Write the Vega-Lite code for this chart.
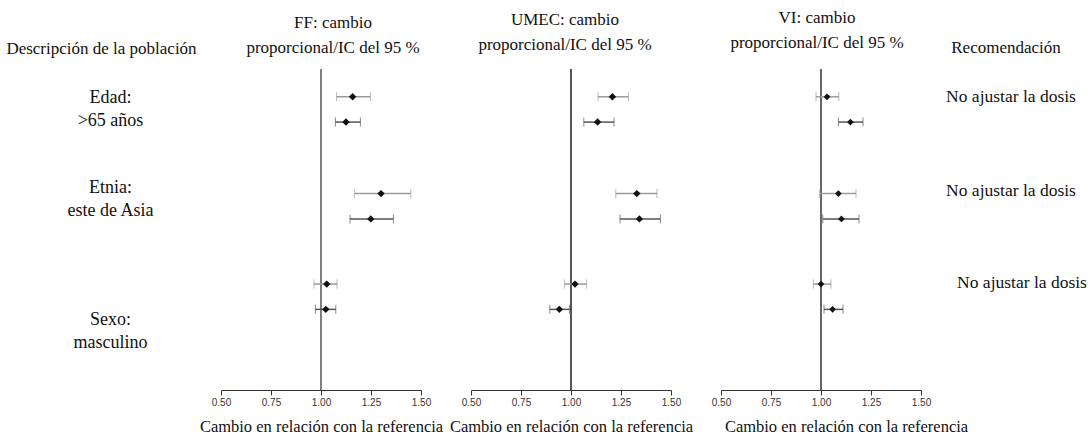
{
  "$schema": "https://vega.github.io/schema/vega-lite/v6.json",
  "padding": {"left": 0, "top": 9, "right": 0, "bottom": 0},
  "background": "white",
  "spacing": 50,
  "bounds": "flush",
  "config": {
    "view": {"stroke": null},
    "font": "Liberation Serif",
    "title": {"font": "Liberation Serif", "fontSize": 17, "fontWeight": "normal", "color": "#111", "subtitleFont": "Liberation Serif", "subtitleFontSize": 17, "subtitleColor": "#111", "subtitlePadding": 8, "offset": 13, "anchor": "middle"},
    "axis": {"grid": false, "domainColor": "#333", "tickColor": "#333", "tickSize": 5, "labelFont": "Liberation Sans", "labelFontSize": 10, "labelColor": "#333", "labelFlush": false, "titleFont": "Liberation Serif", "titleFontSize": 16.5, "titleFontWeight": "normal", "titleColor": "#111", "titlePadding": 11}
  },
  "datasets": {
    "forest": [
      {"farmaco": "FF", "grupo": "Edad", "parametro": "Cmax", "posicion": 1, "valor": 1.158, "inf": 1.078, "sup": 1.247},
      {"farmaco": "FF", "grupo": "Edad", "parametro": "AUC", "posicion": 2, "valor": 1.125, "inf": 1.072, "sup": 1.197},
      {"farmaco": "FF", "grupo": "Etnia", "parametro": "Cmax", "posicion": 4.83, "valor": 1.30, "inf": 1.167, "sup": 1.449},
      {"farmaco": "FF", "grupo": "Etnia", "parametro": "AUC", "posicion": 5.83, "valor": 1.249, "inf": 1.145, "sup": 1.362},
      {"farmaco": "FF", "grupo": "Sexo", "parametro": "Cmax", "posicion": 8.41, "valor": 1.029, "inf": 0.965, "sup": 1.08},
      {"farmaco": "FF", "grupo": "Sexo", "parametro": "AUC", "posicion": 9.41, "valor": 1.024, "inf": 0.972, "sup": 1.074},
      {"farmaco": "UMEC", "grupo": "Edad", "parametro": "Cmax", "posicion": 1, "valor": 1.207, "inf": 1.135, "sup": 1.287},
      {"farmaco": "UMEC", "grupo": "Edad", "parametro": "AUC", "posicion": 2, "valor": 1.133, "inf": 1.064, "sup": 1.215},
      {"farmaco": "UMEC", "grupo": "Etnia", "parametro": "Cmax", "posicion": 4.83, "valor": 1.329, "inf": 1.224, "sup": 1.43},
      {"farmaco": "UMEC", "grupo": "Etnia", "parametro": "AUC", "posicion": 5.83, "valor": 1.342, "inf": 1.245, "sup": 1.447},
      {"farmaco": "UMEC", "grupo": "Sexo", "parametro": "Cmax", "posicion": 8.41, "valor": 1.02, "inf": 0.968, "sup": 1.077},
      {"farmaco": "UMEC", "grupo": "Sexo", "parametro": "AUC", "posicion": 9.41, "valor": 0.942, "inf": 0.894, "sup": 0.992},
      {"farmaco": "VI", "grupo": "Edad", "parametro": "Cmax", "posicion": 1, "valor": 1.03, "inf": 0.975, "sup": 1.089},
      {"farmaco": "VI", "grupo": "Edad", "parametro": "AUC", "posicion": 2, "valor": 1.147, "inf": 1.087, "sup": 1.21},
      {"farmaco": "VI", "grupo": "Etnia", "parametro": "Cmax", "posicion": 4.83, "valor": 1.087, "inf": 0.994, "sup": 1.175},
      {"farmaco": "VI", "grupo": "Etnia", "parametro": "AUC", "posicion": 5.83, "valor": 1.102, "inf": 1.009, "sup": 1.19},
      {"farmaco": "VI", "grupo": "Sexo", "parametro": "Cmax", "posicion": 8.41, "valor": 1.0, "inf": 0.962, "sup": 1.05},
      {"farmaco": "VI", "grupo": "Sexo", "parametro": "AUC", "posicion": 9.41, "valor": 1.058, "inf": 1.015, "sup": 1.11}
    ],
    "poblacion": [
      {"etiqueta": "Edad:\n>65 años", "posicion": 1.05},
      {"etiqueta": "Etnia:\neste de Asia", "posicion": 4.6},
      {"etiqueta": "Sexo:\nmasculino", "posicion": 9.85}
    ],
    "recomendacion": [
      {"grupo": "Edad", "texto": "No ajustar la dosis", "posicion": 1.0},
      {"grupo": "Etnia", "texto": "No ajustar la dosis", "posicion": 4.73},
      {"grupo": "Sexo", "texto": "No ajustar la dosis", "posicion": 8.36}
    ],
    "referencia": [{"referencia": 1}]
  },
  "hconcat": [
    {
      "width": 171, "height": 321,
      "title": {"text": " ", "subtitle": "Descripción de la población", "dx": 16, "dy": 2, "subtitleFontSize": 17},
      "data": {"name": "poblacion"},
      "mark": {"type": "text", "fontSize": 18, "lineHeight": 23, "color": "#111", "dx": 25, "lineBreak": "\n"},
      "encoding": {
        "y": {"field": "posicion", "type": "quantitative", "scale": {"domain": [-0.1, 12.6], "reverse": true, "nice": false, "zero": false}, "axis": null},
        "text": {"field": "etiqueta"}
      }
    },
    {
      "width": 200, "height": 321,
      "title": {"text": "FF: cambio", "subtitle": "proporcional/IC del 95 %", "dx": 12, "dy": 2},
      "layer": [
        {
          "data": {"name": "referencia"},
          "mark": {"type": "rule", "color": "#555", "strokeWidth": 1.5},
          "encoding": {"x": {"field": "referencia", "type": "quantitative", "scale": {"domain": [0.5, 1.5], "nice": false, "zero": false}, "axis": {"values": [0.5, 0.75, 1, 1.25, 1.5], "format": ".2f", "title": "Cambio en relación con la referencia"}}}
        },
        {
          "data": {"name": "forest"},
          "transform": [{"filter": "datum.farmaco === 'FF'"}],
          "encoding": {
            "y": {"field": "posicion", "type": "quantitative", "scale": {"domain": [-0.1, 12.6], "reverse": true, "nice": false, "zero": false}, "axis": null},
            "color": {"field": "parametro", "type": "nominal", "scale": {"domain": ["Cmax", "AUC"], "range": ["#9a9a9a", "#555555"]}, "legend": null}
          },
          "layer": [
            {"mark": {"type": "rule", "strokeWidth": 1.5}, "encoding": {"x": {"field": "inf", "type": "quantitative"}, "x2": {"field": "sup"}}},
            {"mark": {"type": "tick", "orient": "vertical", "size": 9, "thickness": 1}, "encoding": {"x": {"field": "inf", "type": "quantitative"}}},
            {"mark": {"type": "tick", "orient": "vertical", "size": 9, "thickness": 1}, "encoding": {"x": {"field": "sup", "type": "quantitative"}}},
            {"mark": {"type": "point", "shape": "diamond", "filled": true, "size": 55, "opacity": 1, "color": "#111"}, "encoding": {"x": {"field": "valor", "type": "quantitative"}, "color": {"value": "#111"}}}
          ]
        }
      ]
    },
    {
      "width": 200, "height": 321,
      "title": {"text": "UMEC: cambio", "subtitle": "proporcional/IC del 95 %", "dx": -6, "dy": -1},
      "layer": [
        {
          "data": {"name": "referencia"},
          "mark": {"type": "rule", "color": "#555", "strokeWidth": 2},
          "encoding": {"x": {"field": "referencia", "type": "quantitative", "scale": {"domain": [0.5, 1.5], "nice": false, "zero": false}, "axis": {"values": [0.5, 0.75, 1, 1.25, 1.5], "format": ".2f", "title": "Cambio en relación con la referencia"}}}
        },
        {
          "data": {"name": "forest"},
          "transform": [{"filter": "datum.farmaco === 'UMEC'"}],
          "encoding": {
            "y": {"field": "posicion", "type": "quantitative", "scale": {"domain": [-0.1, 12.6], "reverse": true, "nice": false, "zero": false}, "axis": null},
            "color": {"field": "parametro", "type": "nominal", "scale": {"domain": ["Cmax", "AUC"], "range": ["#9a9a9a", "#555555"]}, "legend": null}
          },
          "layer": [
            {"mark": {"type": "rule", "strokeWidth": 1.5}, "encoding": {"x": {"field": "inf", "type": "quantitative"}, "x2": {"field": "sup"}}},
            {"mark": {"type": "tick", "orient": "vertical", "size": 9, "thickness": 1}, "encoding": {"x": {"field": "inf", "type": "quantitative"}}},
            {"mark": {"type": "tick", "orient": "vertical", "size": 9, "thickness": 1}, "encoding": {"x": {"field": "sup", "type": "quantitative"}}},
            {"mark": {"type": "point", "shape": "diamond", "filled": true, "size": 55, "opacity": 1, "color": "#111"}, "encoding": {"x": {"field": "valor", "type": "quantitative"}, "color": {"value": "#111"}}}
          ]
        }
      ]
    },
    {
      "width": 200, "height": 321,
      "title": {"text": "VI: cambio", "subtitle": "proporcional/IC del 95 %", "dx": -4, "dy": -3},
      "layer": [
        {
          "data": {"name": "referencia"},
          "mark": {"type": "rule", "color": "#333", "strokeWidth": 1.5},
          "encoding": {"x": {"field": "referencia", "type": "quantitative", "scale": {"domain": [0.5, 1.5], "nice": false, "zero": false}, "axis": {"values": [0.5, 0.75, 1, 1.25, 1.5], "format": ".2f", "title": "Cambio en relación con la referencia", "titleX": 125}}}
        },
        {
          "data": {"name": "forest"},
          "transform": [{"filter": "datum.farmaco === 'VI'"}],
          "encoding": {
            "y": {"field": "posicion", "type": "quantitative", "scale": {"domain": [-0.1, 12.6], "reverse": true, "nice": false, "zero": false}, "axis": null},
            "color": {"field": "parametro", "type": "nominal", "scale": {"domain": ["Cmax", "AUC"], "range": ["#9a9a9a", "#555555"]}, "legend": null}
          },
          "layer": [
            {"mark": {"type": "rule", "strokeWidth": 1.5}, "encoding": {"x": {"field": "inf", "type": "quantitative"}, "x2": {"field": "sup"}}},
            {"mark": {"type": "tick", "orient": "vertical", "size": 9, "thickness": 1}, "encoding": {"x": {"field": "inf", "type": "quantitative"}}},
            {"mark": {"type": "tick", "orient": "vertical", "size": 9, "thickness": 1}, "encoding": {"x": {"field": "sup", "type": "quantitative"}}},
            {"mark": {"type": "point", "shape": "diamond", "filled": true, "size": 45, "opacity": 1, "color": "#111"}, "encoding": {"x": {"field": "valor", "type": "quantitative"}, "color": {"value": "#111"}}}
          ]
        }
      ]
    },
    {
      "width": 120, "height": 321,
      "title": {"text": " ", "subtitle": "Recomendación", "dx": -25, "dy": 1},
      "data": {"name": "recomendacion"},
      "encoding": {
        "y": {"field": "posicion", "type": "quantitative", "scale": {"domain": [-0.1, 12.6], "reverse": true, "nice": false, "zero": false}, "axis": null},
        "text": {"field": "texto"}
      },
      "layer": [
        {"transform": [{"filter": "datum.grupo !== 'Sexo'"}], "mark": {"type": "text", "fontSize": 17.5, "color": "#111", "dx": -20}},
        {"transform": [{"filter": "datum.grupo === 'Sexo'"}], "mark": {"type": "text", "fontSize": 17.5, "color": "#111", "dx": -9}}
      ]
    }
  ]
}
